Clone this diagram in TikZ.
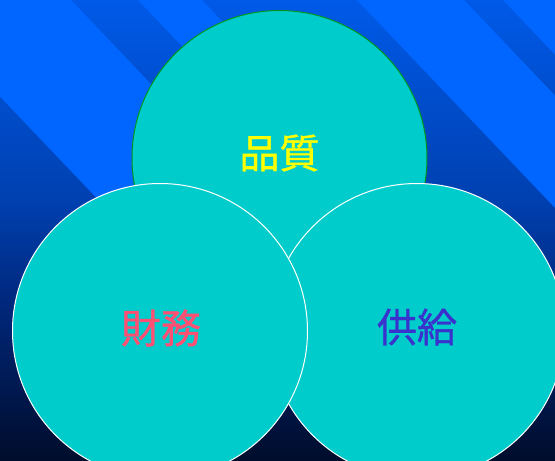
\documentclass[tikz,border=0pt]{standalone}
\usepackage{fontspec}
\newfontfamily\cjk{Noto Sans CJK JP}[FakeBold=0.9]
\definecolor{bandblue}{RGB}{0,102,255}
\definecolor{bgA}{RGB}{0,90,232}
\definecolor{bgB}{RGB}{0,64,176}
\definecolor{bgC}{RGB}{0,40,125}
\definecolor{bgD}{RGB}{0,12,42}
\definecolor{discfill}{RGB}{0,204,204}
\definecolor{discgreen}{RGB}{0,150,30}
\definecolor{txtyellow}{RGB}{255,255,0}
\definecolor{txtred}{RGB}{255,80,115}
\definecolor{txtblue}{RGB}{58,50,205}
\tikzset{
  disc/.style={circle, minimum size=295pt, inner sep=0pt, outer sep=0pt, fill=discfill, line width=1pt},
  word/.style={font=\cjk\fontsize{40}{48}\selectfont, inner sep=0pt}
}
\newcommand{\bandpoly}[2]{(#1-9.5,-10) -- (#2-9.5,-10) -- (#2+285.7,300) -- (#1+285.7,300) -- cycle}
\begin{document}
\begin{tikzpicture}[x=1pt,y=-1pt]
\useasboundingbox (0,0) rectangle (555,461);
% background gradient
\shade[top color=bgA, bottom color=bgB] (0,-1) rectangle (555,200.5);
\shade[top color=bgB, bottom color=bgC] (0,200) rectangle (555,300.5);
\shade[top color=bgC, bottom color=bgD] (0,300) rectangle (555,462);
% diagonal bands
\begin{scope}
\clip (0,0) rectangle (555,461);
\fill[bandblue] \bandpoly{-92}{71};
\fill[bandblue] \bandpoly{138}{202};
\fill[bandblue] \bandpoly{357}{464};
\fill[bandblue] \bandpoly{503}{1000};
\end{scope}
% discs
\node[disc, draw=discgreen] (quality) at (279.5,158) {};
\node[disc, draw=white] (supply) at (417,331) {};
\node[disc, draw=white] (finance) at (160,331) {};
% labels
\node[word, text=txtyellow] (qualitytext) at (279.5,153) {品質};
\node[word, text=txtred] (financetext) at (161,328) {財務};
\node[word, text=txtblue] (supplytext) at (417,327) {供給};
\end{tikzpicture}
\end{document}
